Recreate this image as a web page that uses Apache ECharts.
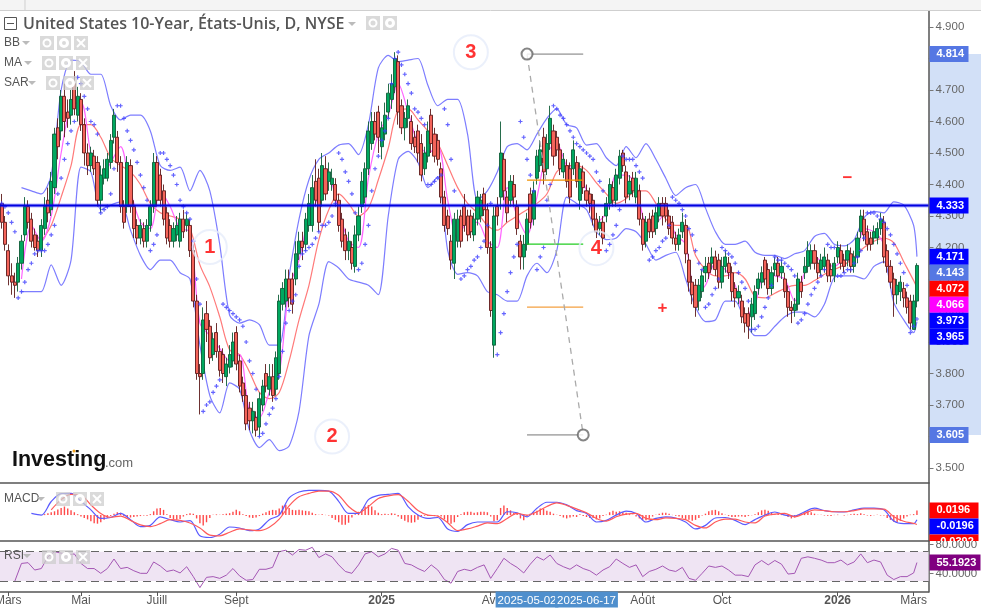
<!DOCTYPE html>
<html><head><meta charset="utf-8">
<style>html,body{margin:0;padding:0;background:#fff}#c{width:981px;height:610px}</style>
<script src="https://cdn.jsdelivr.net/npm/echarts@6/dist/echarts.min.js"></script>
</head><body><div id="c"></div>
<script>
const opens=[4.34,4.28,4.19,4.11,4.09,4.09,4.15,4.24,4.33,4.29,
4.24,4.22,4.19,4.26,4.35,4.32,4.39,4.58,4.57,4.68,
4.63,4.62,4.72,4.62,4.67,4.59,4.50,4.46,4.49,4.47,
4.35,4.42,4.42,4.47,4.55,4.55,4.47,4.33,4.33,4.46,
4.33,4.27,4.23,4.26,4.22,4.27,4.33,4.47,4.43,4.38,
4.31,4.27,4.22,4.24,4.22,4.29,4.27,4.27,4.19,4.03,
3.80,3.80,3.99,3.95,3.86,3.93,3.87,3.86,3.79,3.82,
3.84,3.93,3.84,3.77,3.73,3.69,3.65,3.66,3.63,3.70,
3.80,3.75,3.79,3.75,3.80,4.02,4.03,4.10,4.10,4.10,
4.18,4.22,4.21,4.27,4.27,4.41,4.42,4.35,4.45,4.41,
4.40,4.40,4.35,4.29,4.24,4.19,4.20,4.14,4.24,4.33,
4.36,4.45,4.53,4.60,4.63,4.52,4.56,4.63,4.67,4.71,
4.79,4.65,4.58,4.61,4.60,4.55,4.57,4.53,4.45,4.49,
4.62,4.56,4.54,4.45,4.36,4.30,4.22,4.15,4.22,4.30,
4.33,4.30,4.30,4.24,4.29,4.30,4.37,4.32,4.20,3.89,
4.33,4.36,4.48,4.36,4.35,4.40,4.33,4.22,4.17,4.21,
4.37,4.29,4.42,4.46,4.55,4.45,4.53,4.57,4.55,4.51,
4.44,4.46,4.45,4.45,4.47,4.35,4.44,4.38,4.37,4.35,
4.29,4.26,4.28,4.30,4.34,4.39,4.35,4.42,4.50,4.44,
4.37,4.42,4.36,4.38,4.29,4.22,4.29,4.30,4.26,4.30,
4.34,4.34,4.30,4.28,4.23,4.21,4.25,4.27,4.16,4.09,
4.08,4.03,4.06,4.12,4.15,4.15,4.17,4.16,4.09,4.14,
4.15,4.12,4.07,4.04,4.03,3.99,3.99,3.98,3.99,4.07,
4.09,4.16,4.13,4.07,4.13,4.15,4.12,4.10,4.06,4.01,
4.00,4.02,4.09,4.12,4.14,4.15,4.19,4.15,4.13,4.14,
4.16,4.13,4.11,4.17,4.19,4.16,4.16,4.18,4.14,4.17,
4.25,4.29,4.25,4.23,4.23,4.23,4.26,4.28,4.19,4.14,
4.10,4.05,4.06,4.07,4.04,4.03,3.94,4.03];
const closes=[4.28,4.21,4.11,4.09,4.08,4.15,4.22,4.33,4.28,4.22,
4.20,4.19,4.27,4.33,4.31,4.41,4.56,4.52,4.68,4.60,
4.61,4.67,4.64,4.68,4.59,4.50,4.46,4.50,4.45,4.35,
4.43,4.45,4.48,4.54,4.62,4.47,4.33,4.28,4.47,4.33,
4.26,4.23,4.27,4.22,4.27,4.33,4.47,4.35,4.35,4.29,
4.23,4.22,4.26,4.27,4.29,4.25,4.29,4.19,4.03,3.80,
3.79,3.97,3.94,3.85,3.91,3.87,3.81,3.80,3.83,3.86,
3.90,3.83,3.76,3.73,3.64,3.65,3.68,3.62,3.72,3.76,
3.76,3.79,3.73,3.85,4.03,4.07,4.10,4.04,4.02,4.18,
4.22,4.20,4.29,4.34,4.39,4.35,4.28,4.46,4.37,4.44,
4.42,4.35,4.27,4.22,4.19,4.22,4.15,4.24,4.30,4.41,
4.45,4.57,4.60,4.56,4.55,4.58,4.62,4.69,4.72,4.80,
4.63,4.58,4.61,4.65,4.53,4.52,4.50,4.43,4.50,4.57,
4.53,4.49,4.48,4.36,4.27,4.26,4.16,4.29,4.29,4.22,
4.27,4.24,4.25,4.29,4.36,4.35,4.32,4.20,4.00,4.30,
4.30,4.50,4.38,4.31,4.41,4.36,4.26,4.17,4.21,4.29,
4.28,4.38,4.49,4.51,4.44,4.53,4.61,4.49,4.51,4.45,
4.48,4.41,4.36,4.51,4.41,4.45,4.39,4.35,4.34,4.29,
4.25,4.28,4.23,4.34,4.40,4.35,4.43,4.49,4.46,4.36,
4.41,4.38,4.42,4.29,4.21,4.28,4.25,4.25,4.31,4.34,
4.30,4.30,4.26,4.23,4.21,4.24,4.28,4.18,4.09,4.05,
4.01,4.08,4.11,4.14,4.12,4.17,4.13,4.09,4.14,4.17,
4.12,4.06,4.04,4.06,3.98,3.96,3.95,4.02,4.06,4.10,
4.12,4.10,4.07,4.12,4.15,4.11,4.14,4.06,4.01,4.00,
4.02,4.10,4.06,4.14,4.19,4.19,4.15,4.12,4.16,4.17,
4.11,4.11,4.15,4.20,4.15,4.14,4.19,4.14,4.17,4.23,
4.30,4.24,4.21,4.21,4.25,4.26,4.29,4.17,4.14,4.09,
4.05,4.08,4.09,4.04,4.01,3.96,4.03,4.143];
const lows=[4.26,4.19,4.08,4.05,4.04,4.06,4.13,4.22,4.26,4.20,
4.19,4.17,4.17,4.24,4.28,4.30,4.37,4.48,4.54,4.55,
4.58,4.59,4.62,4.60,4.57,4.46,4.43,4.44,4.43,4.33,
4.31,4.40,4.41,4.45,4.53,4.44,4.31,4.26,4.31,4.31,
4.23,4.21,4.21,4.20,4.20,4.25,4.31,4.33,4.33,4.27,
4.21,4.20,4.20,4.22,4.20,4.23,4.25,4.17,4.01,3.78,
3.67,3.78,3.90,3.83,3.84,3.85,3.79,3.77,3.76,3.80,
3.82,3.81,3.74,3.71,3.62,3.62,3.61,3.60,3.60,3.68,
3.74,3.73,3.71,3.73,3.78,4.00,4.01,4.01,3.99,4.08,
4.16,4.16,4.19,4.25,4.25,4.33,4.25,4.33,4.35,4.38,
4.38,4.33,4.25,4.20,4.16,4.16,4.13,4.12,4.22,4.31,
4.34,4.43,4.51,4.54,4.50,4.48,4.54,4.61,4.64,4.69,
4.59,4.56,4.54,4.58,4.51,4.50,4.47,4.41,4.43,4.47,
4.50,4.47,4.46,4.34,4.25,4.24,4.13,4.10,4.20,4.20,
4.25,4.22,4.23,4.22,4.27,4.28,4.30,4.18,3.98,3.85,
4.27,4.32,4.35,4.28,4.33,4.33,4.24,4.13,4.13,4.19,
4.26,4.27,4.40,4.44,4.40,4.43,4.51,4.46,4.49,4.43,
4.42,4.39,4.34,4.43,4.39,4.32,4.37,4.33,4.31,4.27,
4.23,4.24,4.21,4.28,4.32,4.33,4.33,4.40,4.44,4.34,
4.35,4.36,4.34,4.27,4.19,4.20,4.23,4.23,4.24,4.28,
4.27,4.28,4.24,4.21,4.19,4.19,4.23,4.15,4.06,4.02,
3.98,4.00,4.04,4.09,4.10,4.13,4.11,4.07,4.07,4.12,
4.10,4.03,4.01,4.02,3.96,3.93,3.91,3.93,3.97,4.05,
4.07,4.08,4.05,4.05,4.11,4.09,4.10,4.04,3.98,3.96,
3.98,4.00,4.04,4.10,4.12,4.13,4.13,4.10,4.11,4.12,
4.09,4.09,4.09,4.15,4.13,4.12,4.14,4.12,4.12,4.15,
4.23,4.22,4.19,4.19,4.21,4.21,4.24,4.15,4.12,4.07,
3.98,4.02,4.03,4.01,3.99,3.94,3.94,4.01];
const highs=[4.37,4.30,4.21,4.15,4.12,4.17,4.24,4.36,4.35,4.31,
4.26,4.24,4.29,4.36,4.39,4.44,4.58,4.61,4.70,4.72,
4.67,4.70,4.76,4.71,4.69,4.61,4.53,4.52,4.51,4.49,
4.46,4.48,4.50,4.56,4.64,4.57,4.49,4.35,4.49,4.48,
4.35,4.29,4.29,4.28,4.29,4.35,4.50,4.49,4.45,4.40,
4.33,4.29,4.28,4.30,4.31,4.32,4.31,4.29,4.21,4.05,
3.83,4.01,4.03,3.97,3.93,3.96,3.89,3.88,3.85,3.89,
3.93,3.95,3.86,3.79,3.75,3.71,3.71,3.68,3.74,3.78,
3.83,3.83,3.83,3.87,4.05,4.09,4.13,4.13,4.12,4.22,
4.25,4.25,4.31,4.37,4.43,4.48,4.45,4.50,4.49,4.47,
4.45,4.42,4.37,4.31,4.26,4.25,4.22,4.27,4.33,4.44,
4.47,4.60,4.63,4.63,4.65,4.60,4.66,4.72,4.75,4.82,
4.81,4.67,4.63,4.67,4.62,4.57,4.59,4.56,4.52,4.60,
4.64,4.58,4.56,4.47,4.38,4.32,4.24,4.31,4.32,4.32,
4.37,4.32,4.32,4.31,4.38,4.37,4.39,4.34,4.22,4.33,
4.36,4.60,4.50,4.38,4.43,4.43,4.35,4.24,4.24,4.31,
4.39,4.41,4.51,4.54,4.58,4.56,4.65,4.59,4.57,4.53,
4.50,4.48,4.47,4.54,4.49,4.47,4.46,4.40,4.39,4.37,
4.31,4.30,4.30,4.36,4.42,4.41,4.45,4.51,4.51,4.46,
4.43,4.44,4.44,4.40,4.31,4.30,4.31,4.32,4.33,4.36,
4.36,4.36,4.32,4.30,4.25,4.26,4.31,4.29,4.18,4.11,
4.10,4.10,4.13,4.17,4.17,4.20,4.19,4.18,4.17,4.19,
4.17,4.14,4.09,4.08,4.05,4.01,4.01,4.04,4.08,4.12,
4.14,4.17,4.15,4.14,4.17,4.17,4.16,4.12,4.08,4.03,
4.04,4.12,4.11,4.17,4.22,4.21,4.21,4.17,4.18,4.20,
4.18,4.15,4.17,4.22,4.21,4.18,4.21,4.20,4.19,4.25,
4.32,4.32,4.27,4.25,4.27,4.28,4.31,4.30,4.21,4.16,
4.12,4.10,4.11,4.09,4.06,4.05,4.05,4.15];
const bbUpper=[null,null,4.39,4.38,4.37,4.43,4.70,4.795,4.79,4.75,
4.75,4.65,4.605,4.62,4.62,4.57,4.46,4.445,4.455,4.38,
4.445,4.38,4.21,3.985,3.96,3.97,3.955,3.89,3.89,4.11,
4.29,4.415,4.48,4.50,4.525,4.53,4.495,4.59,4.77,4.81,
4.79,4.795,4.80,4.715,4.65,4.67,4.67,4.56,4.35,4.38,
4.44,4.52,4.53,4.51,4.56,4.61,4.64,4.59,4.58,4.525,
4.53,4.485,4.46,4.52,4.485,4.53,4.48,4.42,4.365,4.39,
4.40,4.325,4.25,4.21,4.21,4.22,4.185,4.175,4.175,4.165,
4.18,4.19,4.235,4.245,4.21,4.205,4.225,4.295,4.315,4.31,
4.345,4.335,4.27,4.171];
const bbLower=[null,null,4.06,4.06,4.06,4.145,4.08,4.16,4.455,4.44,
4.32,4.335,4.345,4.255,4.175,4.13,4.16,4.16,4.12,4.10,
3.89,3.73,3.675,3.77,3.75,3.62,3.565,3.59,3.555,3.57,
3.68,3.92,4.02,4.155,4.135,4.10,4.09,4.08,4.05,4.30,
4.48,4.505,4.47,4.39,4.425,4.19,4.115,4.12,4.11,4.06,
4.05,4.03,4.03,4.11,4.15,4.12,4.19,4.36,4.34,4.32,
4.25,4.225,4.23,4.26,4.25,4.21,4.16,4.175,4.185,4.10,
4.01,3.965,3.97,4.03,4.03,3.965,3.92,3.92,3.95,3.98,
3.995,3.995,3.98,4.02,4.105,4.11,4.11,4.10,4.14,4.155,
4.025,3.97,3.93,3.965];
const maSlow=[null,null,null,null,4.22,4.27,4.36,4.46,4.59,4.59,
4.55,4.485,4.46,4.44,4.40,4.34,4.31,4.30,4.29,4.26,
4.145,4.075,3.98,3.875,3.86,3.805,3.74,3.72,3.74,3.84,
3.97,4.08,4.225,4.32,4.37,4.34,4.30,4.325,4.415,4.515,
4.635,4.64,4.605,4.57,4.53,4.46,4.39,4.34,4.31,4.27,
4.255,4.28,4.30,4.32,4.34,4.37,4.44,4.46,4.46,4.445,
4.405,4.37,4.34,4.355,4.38,4.38,4.34,4.29,4.27,4.27,
4.175,4.13,4.11,4.11,4.12,4.10,4.045,4.04,4.055,4.07,
4.08,4.08,4.095,4.115,4.13,4.145,4.17,4.20,4.22,4.23,
4.215,4.155,4.095,4.072];
const maFast=[null,null,4.10,4.27,4.22,4.30,4.50,4.65,4.66,4.50,
4.42,4.47,4.52,4.38,4.28,4.26,4.38,4.33,4.26,4.25,
3.96,3.92,3.88,3.84,3.86,3.68,3.66,3.74,3.80,4.07,
4.16,4.30,4.36,4.42,4.32,4.22,4.20,4.42,4.56,4.62,
4.72,4.63,4.53,4.50,4.52,4.35,4.23,4.28,4.28,4.22,
4.20,4.39,4.30,4.24,4.36,4.50,4.53,4.46,4.45,4.38,
4.28,4.31,4.43,4.43,4.40,4.28,4.28,4.31,4.24,4.21,
4.05,4.08,4.15,4.13,4.08,3.98,4.02,4.12,4.11,4.10,
4.03,4.12,4.17,4.15,4.14,4.16,4.16,4.26,4.25,4.21,
4.08,4.06,4.00,4.066];
const sar=[4.34,4.33,4.31,4.28,4.25,4.04,4.06,4.09,4.13,4.15,
4.18,4.19,4.19,4.19,4.21,4.24,4.27,4.37,4.42,4.48,
4.53,4.57,4.60,4.74,4.72,4.68,4.64,4.60,4.59,4.56,
4.31,4.32,4.33,4.37,4.45,4.65,4.65,4.61,4.57,4.54,
4.51,4.47,4.43,4.39,4.35,4.19,4.21,4.24,4.50,4.50,
4.48,4.46,4.43,4.40,4.35,4.33,4.31,4.29,4.22,4.10,
4.02,3.68,3.70,3.71,3.74,3.76,3.78,4.02,4.01,4.00,
3.99,3.98,3.97,3.95,3.90,3.84,3.80,3.75,3.60,3.61,
3.64,3.67,3.69,3.72,3.79,3.87,3.96,4.00,4.03,4.05,
4.14,4.18,4.19,4.20,4.21,4.23,4.25,4.27,4.27,4.28,
4.30,4.34,4.50,4.48,4.44,4.41,4.37,4.31,4.13,4.15,
4.21,4.27,4.38,4.45,4.49,4.54,4.57,4.61,4.72,4.80,
4.82,4.78,4.75,4.72,4.69,4.64,4.63,4.61,4.59,4.40,
4.40,4.41,4.42,4.43,4.64,4.59,4.48,4.38,null,4.10,
4.11,4.13,4.14,4.16,4.17,4.20,4.22,4.27,4.34,null,
3.86,3.93,3.99,4.06,4.12,4.17,4.21,4.60,4.55,4.48,
4.43,4.38,4.13,4.17,4.20,4.35,4.40,4.65,4.64,4.62,
4.61,4.59,4.57,4.55,4.53,4.52,4.51,4.50,4.49,4.48,
4.44,4.41,4.38,4.19,4.21,4.24,4.27,4.32,4.49,4.48,
4.48,4.48,4.46,4.44,4.42,null,4.16,4.17,4.19,4.20,
4.22,4.23,4.27,4.36,4.35,4.34,4.32,4.30,4.26,4.24,
4.19,4.15,4.13,4.01,4.02,4.05,4.07,4.10,4.20,4.19,
4.18,4.17,4.15,4.12,4.09,4.07,4.03,3.94,3.94,3.95,
3.98,4.01,4.04,4.08,4.17,4.16,4.16,4.15,4.14,4.13,
4.11,3.96,3.97,3.99,4.02,4.05,4.07,4.09,4.11,4.13,
4.21,4.20,4.20,4.11,4.11,4.12,4.13,4.13,4.15,4.17,
4.19,4.23,4.31,4.31,4.31,4.30,4.29,4.28,4.26,4.24,
4.21,4.18,4.15,4.12,4.08,3.93,3.95,3.973];
const macdLine=[null,null,null,.007,0,.057,.09,.091,.058,.022,
-.014,-.01,.007,-.019,-.048,-.043,-.007,-.019,-.029,-.023,
-.087,-.094,-.08,-.05,-.054,-.065,-.058,-.019,0,.072,
.097,.104,.104,.101,.058,.007,.007,.065,.083,.087,
.091,.036,0,-.014,-.01,-.058,-.068,-.04,-.029,-.029,
-.029,.014,.01,-.007,.029,.054,.054,.043,.019,.007,
-.029,-.022,0,.017,.007,-.029,-.014,-.007,-.012,-.029,
-.058,-.043,-.012,-.01,-.022,-.04,-.019,0,.013,0,
-.004,.014,.029,.019,.014,.013,.022,.029,.029,.022,
-.025,-.036,-.036,-.0196];
const macdSignal=[null,null,null,null,null,.022,.065,.087,.084,.043,
.007,-.009,-.004,-.022,-.041,-.048,-.036,-.019,-.022,-.033,
-.054,-.084,-.087,-.072,-.058,-.062,-.065,-.051,-.017,.039,
.077,.091,.101,.101,.083,.036,.01,.036,.07,.081,
.086,.058,.019,0,-.004,-.032,-.065,-.058,-.046,-.033,
-.036,-.014,.007,0,.014,.036,.051,.041,.026,.01,
-.014,-.025,-.007,.004,.007,-.014,-.019,-.012,-.014,-.019,
-.043,-.054,-.029,-.017,-.017,-.029,-.033,-.004,.004,.007,
-.007,.007,.022,.019,.014,.014,.019,.026,.026,.025,
-.007,-.026,-.035,-.0392];
const macdHist=[null,null,null,null,null,null,null,null,null,null,
null,null,null,.004,.008,.012,.016,.024,.03,.036,
.028,.02,.012,.004,-.006,-.012,-.018,-.026,-.034,-.036,
-.03,-.02,-.012,-.004,.006,.012,.01,-.004,-.008,-.01,
-.008,-.006,-.004,-.002,-.003,.004,.016,.028,.03,.022,
.004,-.012,-.018,-.02,-.016,-.006,.004,.008,.006,-.014,
-.034,-.044,-.03,-.012,.002,.003,.001,.004,.006,.008,
.014,.022,.016,.004,-.004,-.01,-.012,-.01,-.004,.006,
.012,.018,.022,.02,.028,.04,.044,.03,.022,.02,
.022,.02,.018,.016,.01,.004,.002,.004,.001,-.002,
-.012,-.02,-.03,-.04,-.04,-.032,-.01,.004,.014,.024,
.036,.042,.036,.02,.01,.004,.006,.004,.008,.006,
-.006,-.016,-.024,-.03,-.032,-.03,-.02,-.006,-.003,-.004,
-.003,-.004,-.002,-.006,-.018,-.03,-.036,-.03,-.008,.004,
.012,.014,.014,.01,.012,.014,.014,.012,-.006,-.026,
-.022,.03,.04,.03,.02,.01,.008,-.014,-.022,-.004,
.006,.012,.018,.028,.026,.018,.014,.006,.002,-.004,
-.01,-.014,-.01,-.006,-.008,.004,-.004,-.008,-.012,-.012,
-.018,-.014,-.004,.002,.012,.018,.014,.016,.012,.01,
.004,.002,-.006,-.014,-.02,-.022,-.014,-.006,.002,.006,
.01,.01,.006,.001,-.003,-.006,-.012,-.016,-.02,-.024,
-.02,-.012,-.002,.006,.016,.02,.022,.016,.008,.002,
-.004,-.008,-.008,-.006,-.006,-.008,-.004,-.001,.004,.012,
.02,.022,.018,.01,.004,.006,.004,.002,-.008,-.014,
-.01,.002,.008,.012,.016,.012,.006,.002,.001,-.002,
-.003,-.004,.001,.002,0,-.002,.001,.004,.006,.004,
.008,.004,-.002,-.004,-.001,.002,-.002,-.002,-.012,-.02,
-.028,-.03,-.024,-.014,-.006,.002,.004,.0196];
const rsi=[null,null,30,54,55,45,47,63,70,68,
65.5,67,54,47,47,40.5,47,60,47,48.6,
44,40.5,40.5,56,50.5,43,45,41,49.5,36,
21,35,36,33.6,38,47,37,31,32,46,
46,48.6,70,72,65.5,73,72,76,62,67,
63,52,43,40.5,52,67,70,63,67,74.5,
72,54,52,47,43,52,45,32,27,43,
46,44,48.6,52,33.6,47,61,54,48.6,41,
53,63,58.6,65.5,54,49.5,46,52,47,44,
38,45,49.5,60,54,48.6,52,36,43,46,
50.5,45,43,48.6,33.6,31,40.5,50.5,48.6,50.5,
45,38,38,36,52,58,52,58,53,39.5,
40.5,61,63,61,58.6,55,55,58.6,52,56,
67,55,58.6,56,38,32,36,36,41,55.1923];

const categoryCount=281;
const categories=Array.from({length:categoryCount},(_,i)=>String(i));
const tickLabels={2:'Mars',24:'Mai',47:'Juill',71:'Sept',115:'2025',148:'Avr',159:'2025-05-02',177:'2025-06-17',194:'Août',218:'Oct',253:'2026',276:'Mars'};
const priceTicks=[3.5,3.6,3.7,3.8,3.9,4.0,4.1,4.2,4.3,4.4,4.5,4.6,4.7,4.8,4.9];
const rsiTicks=[40,80];
const priceTags=[[4.814,'#5577e3'],[4.333,'#0000ff'],[4.171,'#0000ff'],[4.143,'#5577e3'],[4.072,'#ff0000'],[4.066,'#ff00ff'],[3.973,'#0000ff'],[3.965,'#0000ff'],[3.605,'#5577e3']];
const macdTags=[[0.0196,'#ff0000'],[-0.0196,'#0000ff'],[-0.0392,'#ff0000']];
const rsiTags=[[55.1923,'#800080']];
const supportLevel=4.333;
const drawingTop=4.814,drawingBottom=3.605,drawingLevels=[[4.414,'#f09000'],[4.211,'#22cc22'],[4.011,'#f4a040']];
const drawingStart=159,drawingEnd=176;
const waveNotes=[['1',63,4.2016],['2',99.5,3.60],['3',142,4.82],['4',179.8,4.198]];
const signNotes=[['+',200.4,4.008],['−',256.2,4.42]];

const sampled=(vals,step)=>vals.map((v,k)=>[k===vals.length-1?opens.length-1:k*step,v]);
const FONT='"Liberation Sans",Arial,sans-serif';
const lineS=(name,vals,color,step,smooth,z)=>({name,type:'line',data:sampled(vals,step),xAxisIndex:0,yAxisIndex:0,showSymbol:false,smooth,z:z||2,lineStyle:{color,width:1.2},itemStyle:{color},silent:true});

function tagSeries(idx,tags,w,dec,clipBottom){
  let prev=-1e9;
  return {type:'custom',xAxisIndex:idx,yAxisIndex:idx,z:20,silent:true,
    data:tags.map(t=>[0,t[0],t[1]]),
    renderItem(params,api){
      if(params.dataIndex===0)prev=-1e9;
      const cs=params.coordSys;const X=cs.x+cs.width+1;
      let y=api.coord([0,api.value(1)])[1];
      y=Math.max(y,prev+16);prev=y;
      const g={type:'group',children:[
        {type:'rect',shape:{x:X,y:y-8,width:w,height:16},style:{fill:tags[params.dataIndex][1]}},
        {type:'text',style:{text:tags[params.dataIndex][0].toFixed(dec),x:X+7,y:y,fill:'#fff',font:'bold 11px '+FONT,textVerticalAlign:'middle',textAlign:'left'}}
      ]};
      if(clipBottom)g.clipPath={type:'rect',shape:{x:X-1,y:y-9,width:w+2,height:Math.max(0,clipBottom-(y-9))}};
      return g;
    }};
}
function miniIcons(x,y){
  const out=[];const fill='rgba(205,205,205,0.75)';
  [0,17,34].forEach((dx,n)=>{
    out.push({type:'rect',silent:true,z:30,shape:{x:x+dx,y:y,width:14,height:14},style:{fill}});
    if(n===0){out.push({type:'ring',silent:true,z:31,shape:{cx:x+dx+7,cy:y+7,r:4.5,r0:2.5},style:{fill:'#fff'}});}
    if(n===1){out.push({type:'ring',silent:true,z:31,shape:{cx:x+dx+7,cy:y+7,r:5,r0:2},style:{fill:'#fff'}});}
    if(n===2){out.push({type:'line',silent:true,z:31,shape:{x1:x+dx+3,y1:y+3,x2:x+dx+11,y2:y+11},style:{stroke:'#fff',lineWidth:2}});
      out.push({type:'line',silent:true,z:31,shape:{x1:x+dx+11,y1:y+3,x2:x+dx+3,y2:y+11},style:{stroke:'#fff',lineWidth:2}});}
  });
  return out;
}
function tri(x,y){return {type:'polygon',silent:true,z:30,shape:{points:[[x,y],[x+8,y],[x+4,y+4]]},style:{fill:'#bbb'}};}
function lab(t,x,y){return {type:'text',silent:true,z:30,style:{text:t,x,y,fill:'#555',font:'12px '+FONT,textVerticalAlign:'middle'}};}

const graphic=[
  {type:'rect',silent:true,z:30,shape:{x:0,y:0,width:981,height:10},style:{fill:'#f4f4f4'}},
  {type:'line',silent:true,z:30,shape:{x1:0,y1:10.5,x2:981,y2:10.5},style:{stroke:'#cfcfcf',lineWidth:1}},
  {type:'line',silent:true,z:30,shape:{x1:25,y1:0,x2:25,y2:10},style:{stroke:'#cfcfcf',lineWidth:1}},
  {type:'rect',silent:true,z:30,shape:{x:4.5,y:17.5,width:12,height:12},style:{fill:'#fff',stroke:'#555',lineWidth:1}},
  {type:'line',silent:true,z:31,shape:{x1:7,y1:23.5,x2:14,y2:23.5},style:{stroke:'#555',lineWidth:1}},
  {type:'text',silent:true,z:30,style:{text:'United States 10-Year, États-Unis, D, NYSE',x:23,y:24,fill:'#555',font:'600 16px "Open Sans",sans-serif',textVerticalAlign:'middle'}},
  tri(348,22),
  {type:'rect',silent:true,z:30,shape:{x:366,y:16,width:14,height:14},style:{fill:'rgba(205,205,205,0.75)'}},
  {type:'ring',silent:true,z:31,shape:{cx:373,cy:23,r:4.5,r0:2.5},style:{fill:'#fff'}},
  {type:'rect',silent:true,z:30,shape:{x:383,y:16,width:14,height:14},style:{fill:'rgba(205,205,205,0.75)'}},
  {type:'ring',silent:true,z:31,shape:{cx:390,cy:23,r:5,r0:2},style:{fill:'#fff'}},
  lab('BB',4,43),tri(22,41),...miniIcons(40,36),
  lab('MA',4,63),tri(24,61),...miniIcons(42,56),
  lab('SAR',4,83),tri(28,81),...miniIcons(46,76),
  lab('MACD',4,499),tri(37,497),...miniIcons(56,492),
  lab('RSI',4,556),tri(23,554),...miniIcons(42,550),
  {type:'text',silent:true,z:15,style:{text:'Investing',x:12,y:460,fill:'#111',font:'bold 21.5px "Liberation Sans",Arial,sans-serif',textVerticalAlign:'middle'}},
  {type:'text',silent:true,z:15,style:{text:'.com',x:105,y:463,fill:'#666',font:'13px "Liberation Sans",Arial,sans-serif',textVerticalAlign:'middle'}},
  {type:'circle',silent:true,z:16,shape:{cx:74,cy:451,r:1.5},style:{fill:'#f5a623'}}
];

const yCommon={position:'right',axisLine:{show:true,onZero:false,lineStyle:{color:'#555',width:1.5}},axisTick:{show:true,length:5,lineStyle:{color:'#777'}},splitLine:{show:false},axisLabel:{color:'#666',fontSize:11.5,fontFamily:FONT,margin:7}};
const xCommon={type:'category',data:categories,boundaryGap:true,axisLine:{show:true,onZero:false,lineStyle:{color:'#555',width:1.5}},axisTick:{show:false},axisLabel:{show:false},splitLine:{show:false}};
const isTick=i=>tickLabels[i]!==undefined;

const option={
  animation:false,backgroundColor:'#fff',graphic,
  grid:[{left:0,top:11,width:928.5,height:472,outerBoundsMode:'none'},{left:0,top:483,width:928.5,height:58,outerBoundsMode:'none'},{left:0,top:541,width:928.5,height:51,outerBoundsMode:'none'}],
  xAxis:[{...xCommon,gridIndex:0},{...xCommon,gridIndex:1},
    {...xCommon,gridIndex:2,axisTick:{show:true,length:4,interval:(i)=>isTick(i),alignWithLabel:true,lineStyle:{color:'#555'}},
     axisLabel:{show:true,interval:0,hideOverlap:false,margin:1,color:'#555',fontSize:12,fontFamily:FONT,
       formatter:(v)=>{const t=tickLabels[+v];if(t===undefined)return '';
         if(t.length>5)return '{sel|'+t+'}';if(/^20/.test(t))return '{yr|'+t+'}';return '{p|'+t+'}';},
       rich:{sel:{color:'#fff',backgroundColor:'#4f8fcd',fontSize:11.5,padding:[3,2,1,2],lineHeight:13,fontFamily:FONT},
             yr:{fontWeight:'bold',color:'#555',fontSize:12,padding:[3,0,1,0],lineHeight:13,fontFamily:FONT},
             p:{color:'#555',fontSize:12,padding:[3,0,1,0],lineHeight:13,fontFamily:FONT}}}}],
  yAxis:[
    {...yCommon,type:'value',gridIndex:0,min:3.4524,max:4.9508,axisLabel:{...yCommon.axisLabel,customValues:priceTicks,formatter:v=>v.toFixed(3)},axisTick:{...yCommon.axisTick,customValues:priceTicks}},
    {...yCommon,type:'value',gridIndex:1,min:-0.1087,max:0.1348,axisLabel:{show:false},axisTick:{show:false}},
    {...yCommon,type:'value',gridIndex:2,min:15,max:84.6,axisLabel:{...yCommon.axisLabel,customValues:rsiTicks,formatter:v=>v.toFixed(4)},axisTick:{...yCommon.axisTick,customValues:rsiTicks}}
  ],
  series:[
    {type:'custom',xAxisIndex:0,yAxisIndex:0,z:-1,silent:true,data:[[0,drawingTop,drawingBottom]],
     renderItem(params,api){const cs=params.coordSys;const a=api.coord([0,api.value(1)])[1],b=api.coord([0,api.value(2)])[1];
       return {type:'rect',shape:{x:cs.x+cs.width+1,y:a,width:60,height:b-a},style:{fill:'#d2e0f7'}};}},
    lineS('BB upper',bbUpper,'#7d7dff',3,0.25,2),
    lineS('BB lower',bbLower,'#7d7dff',3,0.25,2),
    lineS('MA slow',maSlow,'#ff7a7a',3,0.3,2),
    lineS('MA fast',maFast,'#ff66ff',3,0.3,2),
    {name:'Price',type:'candlestick',xAxisIndex:0,yAxisIndex:0,z:3,barWidth:3.6,silent:true,
     data:opens.map((o,i)=>[o,closes[i],lows[i],highs[i]]),
     itemStyle:{color:'#00a85f',color0:'#f4645a',borderColor:'#0f5c38',borderColor0:'#5c1a1a',borderWidth:0.9}},
    {name:'SAR',type:'scatter',xAxisIndex:0,yAxisIndex:0,z:4,silent:true,symbol:'path://M1.8 0h1.4v1.8h1.8v1.4h-1.8v1.8h-1.4v-1.8h-1.8v-1.4h1.8z',symbolSize:4.2,
     itemStyle:{color:'#3f3fff'},data:sar.map((v,i)=>v===null?null:[i,v]).filter(Boolean)},
    {type:'custom',xAxisIndex:0,yAxisIndex:0,z:5,silent:true,data:[[0,supportLevel]],
     renderItem(params,api){const cs=params.coordSys;const y=api.coord([0,api.value(1)])[1];
       return {type:'group',children:[
         {type:'rect',shape:{x:cs.x,y:y-2,width:cs.width,height:4},style:{fill:'rgba(40,40,255,0.35)'}},
         {type:'rect',shape:{x:cs.x,y:y-1,width:cs.width,height:2},style:{fill:'#0000e0'}}]};}},
    ...drawingLevels.map(l=>({type:'line',xAxisIndex:0,yAxisIndex:0,z:6,silent:true,showSymbol:false,lineStyle:{color:l[1],width:1.2},data:[[drawingStart,l[0]],[drawingEnd,l[0]]]})),
    {type:'line',xAxisIndex:0,yAxisIndex:0,z:6,silent:true,showSymbol:false,lineStyle:{color:'#777',width:1},data:[[drawingStart,drawingTop],[drawingEnd,drawingTop]]},
    {type:'line',xAxisIndex:0,yAxisIndex:0,z:6,silent:true,showSymbol:false,lineStyle:{color:'#777',width:1},data:[[drawingStart,drawingBottom],[drawingEnd,drawingBottom]]},
    {type:'line',xAxisIndex:0,yAxisIndex:0,z:6,silent:true,showSymbol:false,lineStyle:{color:'#aaa',width:1.3,type:[6,5]},data:[[drawingStart,drawingTop],[drawingEnd,drawingBottom]]},
    {type:'scatter',xAxisIndex:0,yAxisIndex:0,z:7,silent:true,symbol:'circle',symbolSize:11,itemStyle:{color:'#fff',borderColor:'#666',borderWidth:2},data:[[drawingStart,drawingTop],[drawingEnd,drawingBottom]]},
    {type:'scatter',xAxisIndex:0,yAxisIndex:0,z:8,silent:true,symbol:'circle',symbolSize:34,itemStyle:{color:'rgba(255,255,255,0)',borderColor:'#e6ecfa',borderWidth:2},
     data:waveNotes.map(n=>({value:[n[1],n[2]],label:{show:true,position:'inside',formatter:n[0],color:'#f00',fontWeight:'bold',fontSize:20,fontFamily:FONT}}))},
    {type:'scatter',xAxisIndex:0,yAxisIndex:0,z:8,silent:true,symbolSize:1,itemStyle:{color:'rgba(0,0,0,0)'},
     data:signNotes.map(n=>({value:[n[1],n[2]],label:{show:true,position:'inside',formatter:n[0],color:'#f00',fontWeight:'bold',fontSize:17,fontFamily:FONT}}))},
    tagSeries(0,priceTags,39,3),
    {type:'bar',name:'Hist',xAxisIndex:1,yAxisIndex:1,barWidth:1.4,z:2,silent:true,itemStyle:{color:'#ff4a4a'},data:macdHist},
    {type:'line',name:'MACD',xAxisIndex:1,yAxisIndex:1,data:sampled(macdLine,3),showSymbol:false,smooth:0.3,z:3,silent:true,lineStyle:{color:'#5a5aff',width:1.2}},
    {type:'line',name:'Signal',xAxisIndex:1,yAxisIndex:1,data:sampled(macdSignal,3),showSymbol:false,smooth:0.3,z:3,silent:true,lineStyle:{color:'#ff5a5a',width:1.2}},
    tagSeries(1,macdTags,49,4,541),
    {type:'line',name:'RSI',xAxisIndex:2,yAxisIndex:2,data:sampled(rsi,2),showSymbol:false,z:3,silent:true,lineStyle:{color:'#a456b4',width:1},
     markArea:{silent:true,itemStyle:{color:'#efe4f3'},data:[[{yAxis:30},{yAxis:70}]]},
     markLine:{silent:true,symbol:'none',label:{show:false},lineStyle:{color:'#666',width:1.2,type:[8,5]},data:[{yAxis:70},{yAxis:30}]}},
    tagSeries(2,rsiTags,51,4)
  ]
};
const chart=echarts.init(document.getElementById('c'),null,{renderer:'canvas'});
chart.setOption(option);
</script></body></html>
